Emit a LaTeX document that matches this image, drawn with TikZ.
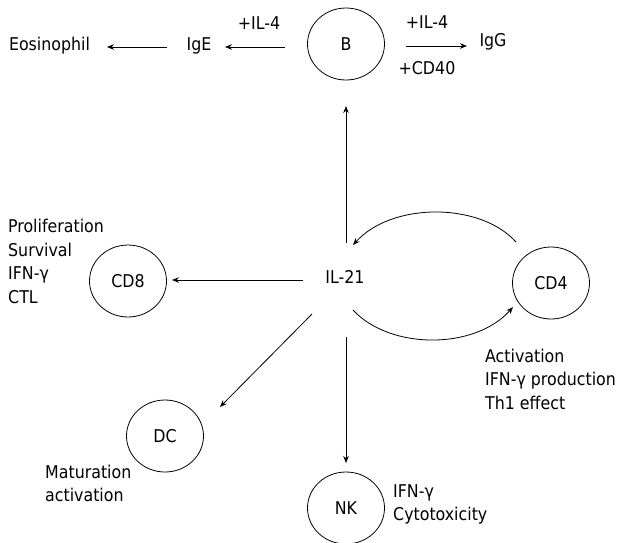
\documentclass[tikz,border=0pt]{standalone}
\usepackage{fontspec}
\setmainfont{DejaVu Sans Condensed}
\usetikzlibrary{shapes.geometric,arrows.meta}
\begin{document}
\begin{tikzpicture}[x=1pt,y=-1pt,
 every node/.style={font=\fontsize{17.6}{23.5}\selectfont,inner sep=0pt},
 cell/.style={ellipse,draw,line width=0.8pt,minimum width=77pt,minimum height=72pt},
 side/.style={align=left,anchor=west},
 conn/.style={line width=0.8pt,-{Stealth[length=7pt,width=5.5pt]}}]
\useasboundingbox (0,0) rectangle (625,542);
% cells
\node[cell] (B) at (346,44) {B};
\node[cell] (CD8) at (128,281) {CD8};
\node[cell] (CD4) at (551,283) {CD4};
\node[cell] (DC) at (165,436) {DC};
\node[cell] (NK) at (346,508) {NK};
\node (IL21) at (345,277) {IL-21};
% top row
\node (IgE) at (199,46) {IgE};
\node (Eos) at (49.5,46) {Eosinophil};
\node (IgG) at (493,42) {IgG};
\node (il4a) at (259,23) {+IL-4};
\node (il4b) at (427,22) {+IL-4};
\node (cd40) at (427,68) {+CD40};
% side labels
\node[side] (cd8lbl) at (8,261.5) {Proliferation\\Survival\\IFN-γ\\CTL};
\node[side] (cd4lbl) at (485,379) {Activation\\IFN-γ production\\Th1 effect};
\node[side] (nklbl) at (393,504.5) {IFN-γ\\Cytotoxicity};
\node[side] (dclbl) at (45,483.5) {Maturation\\activation};
% connector end points
\coordinate (bL1) at (285,47); \coordinate (bL2) at (225,47);
\coordinate (eA) at (167,47); \coordinate (eB) at (107,47);
\coordinate (gA) at (406,46); \coordinate (gB) at (467,46);
\coordinate (upA) at (346,243); \coordinate (upB) at (346,106);
\coordinate (lfA) at (303,280); \coordinate (lfB) at (172,280);
\coordinate (dgA) at (312,314); \coordinate (dgB) at (220,407);
\coordinate (dnA) at (346,337); \coordinate (dnB) at (346,463);
\coordinate (tA) at (516,242); \coordinate (tB) at (353,245);
\coordinate (bA) at (353,310); \coordinate (bB) at (513,307);
% connectors
\draw[conn] (bL1) -- (bL2);
\draw[conn] (eA) -- (eB);
\draw[conn] (gA) -- (gB);
\draw[conn] (upA) -- (upB);
\draw[conn] (lfA) -- (lfB);
\draw[conn] (dgA) -- (dgB);
\draw[conn] (dnA) -- (dnB);
\draw[conn] (tA) .. controls (480,202) and (392,202) .. (tB);
\draw[conn] (bA) .. controls (390,350) and (475,350) .. (bB);
\end{tikzpicture}
\end{document}
